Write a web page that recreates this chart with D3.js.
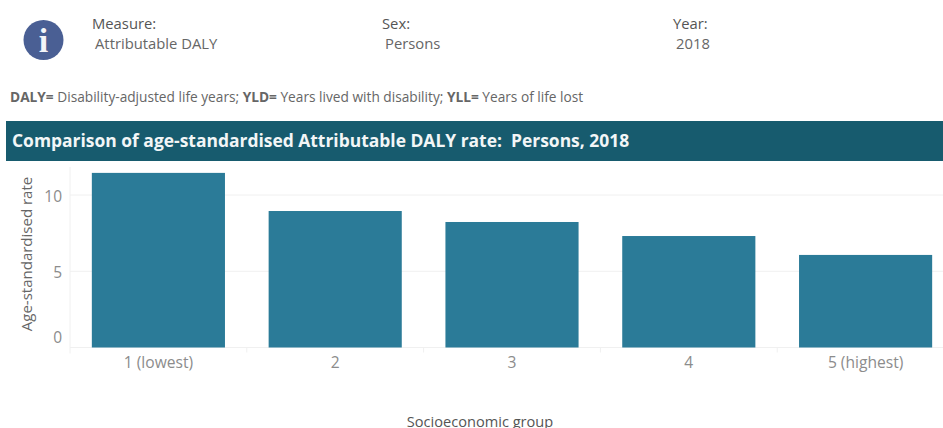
<!DOCTYPE html>
<html>
<head>
<meta charset="utf-8">
<script src="https://cdn.jsdelivr.net/npm/d3@7"></script>
<style>
  html, body { margin: 0; padding: 0; background: #fff; overflow: hidden; }
  text { font-family: "Open Sans", Lato, sans-serif; white-space: pre; }
</style>
</head>
<body>
<svg id="chart" width="943" height="428"></svg>
<script>
var groups = ["1 (lowest)", "2", "3", "4", "5 (highest)"];
var rates = [11.45, 8.95, 8.23, 7.31, 6.07];
var yTicks = [0, 5, 10];
var infoLabels = ["Measure:", "Sex:", "Year:"];
var infoValues = ["Attributable DALY", "Persons", "2018"];

var svg = d3.select("#chart");
var margin = {left: 70, top: 167, bottom: 347.5};

var x = d3.scaleBand().domain(groups).range([margin.left, 954]).paddingInner(0.247).paddingOuter(0.1235);
var y = d3.scaleLinear().domain([0, 11.8]).range([margin.bottom, margin.bottom - 11.8 * 15.25]);

// header block
var infoX = [92, 382, 673];
var infoValX = [95, 385, 676];

svg.append("circle").attr("cx", 43.5).attr("cy", 40).attr("r", 20).attr("fill", "#4a5f94");
svg.append("text").attr("x", 43.5).attr("y", 52)
    .attr("text-anchor", "middle")
    .attr("font-size", "34px")
    .attr("font-weight", "bold")
    .attr("fill", "#f4f5f8")
    .style("font-family", "'Liberation Serif', serif")
    .text("i");

infoLabels.forEach(function(d, i) {
    svg.append("text").attr("x", infoX[i]).attr("y", 29)
        .attr("font-size", "14.8px").attr("fill", "#555").text(d);
    svg.append("text").attr("x", infoValX[i]).attr("y", 49)
        .attr("font-size", "14.8px").attr("fill", "#666").text(infoValues[i]);
});

var note = svg.append("text").attr("x", 10).attr("y", 102).attr("font-size", "13.7px").attr("fill", "#666");
[["DALY=", 1], [" Disability-adjusted life years; ", 0], ["YLD=", 1], [" Years lived with disability; ", 0], ["YLL=", 1], [" Years of life lost", 0]].forEach(function(p) {
    note.append("tspan").attr("font-weight", p[1] ? "bold" : "normal").text(p[0]);
});

// title band
svg.append("rect").attr("x", 6).attr("y", 121).attr("width", 937).attr("height", 40).attr("fill", "#175b6e");
svg.append("text").attr("x", 12).attr("y", 147)
    .attr("font-size", "17.45px").attr("font-weight", "bold").attr("fill", "#f2f6f7")
    .text("Comparison of age-standardised Attributable DALY rate:  Persons, 2018");

// gridlines
svg.append("g").selectAll("line").data(yTicks).join("line")
    .attr("x1", margin.left).attr("x2", 943)
    .attr("y1", function(d) { return y(d); }).attr("y2", function(d) { return y(d); })
    .attr("stroke", "#f0f0f0");

svg.append("line")
    .attr("x1", margin.left).attr("x2", margin.left)
    .attr("y1", margin.top).attr("y2", margin.bottom + 6)
    .attr("stroke", "#f0f0f0");

// bars
svg.append("g").selectAll("rect").data(rates).join("rect")
    .attr("x", function(d, i) { return x(groups[i]); })
    .attr("y", function(d) { return y(d); })
    .attr("width", x.bandwidth())
    .attr("height", function(d) { return y(0) - y(d); })
    .attr("fill", "#2b7b98");

// y axis
var yAxis = svg.append("g")
    .attr("transform", "translate(" + margin.left + ",0)")
    .call(d3.axisLeft(y).tickValues(yTicks).tickSize(0).tickPadding(8).tickFormat(d3.format("d")));
yAxis.select(".domain").remove();
yAxis.selectAll("text").attr("font-size", "15.5px").attr("fill", "#8c8c8c");
yAxis.selectAll("text").attr("dy", function(d) { return d == 0 ? "-0.32em" : "0.42em"; });

// x axis
var xAxis = svg.append("g")
    .attr("transform", "translate(0," + margin.bottom + ")")
    .call(d3.axisBottom(x).tickSize(0).tickPadding(9));
xAxis.select(".domain").remove();
xAxis.selectAll("text").attr("font-size", "15.6px").attr("fill", "#8c8c8c");

// separators between the categories
svg.append("g").selectAll("line").data(groups.slice(1)).join("line")
    .attr("x1", function(d) { return x(d) - x.step() * 0.1235; })
    .attr("x2", function(d) { return x(d) - x.step() * 0.1235; })
    .attr("y1", margin.bottom).attr("y2", margin.bottom + 5)
    .attr("stroke", "#f0f0f0");

// axis titles
svg.append("text")
    .attr("transform", "translate(32,254) rotate(-90)")
    .attr("text-anchor", "middle")
    .attr("font-size", "15px").attr("fill", "#666")
    .text("Age-standardised rate");

svg.append("text").attr("x", 480).attr("y", 427)
    .attr("text-anchor", "middle")
    .attr("font-size", "14.6px").attr("fill", "#555")
    .text("Socioeconomic group");
</script>
</body>
</html>
